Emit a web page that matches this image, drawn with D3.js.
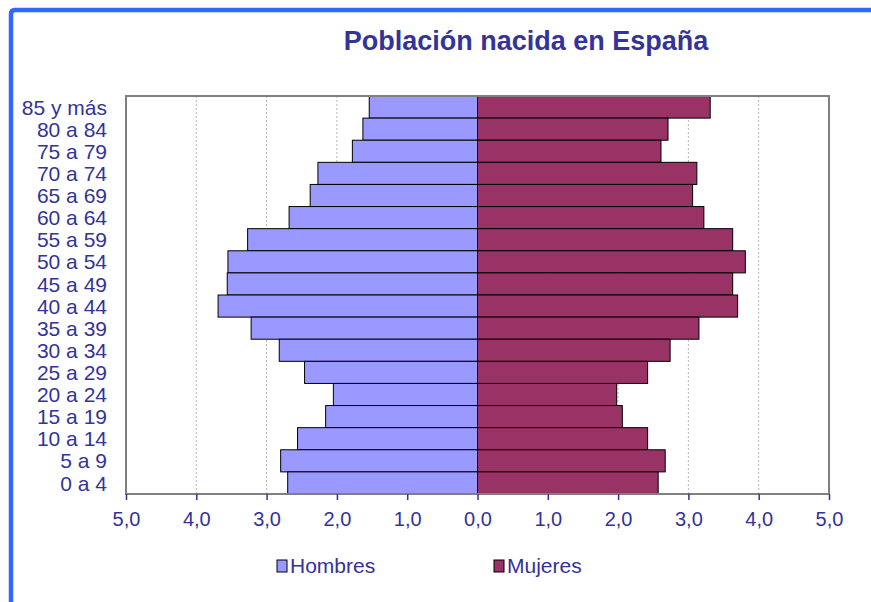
<!DOCTYPE html>
<html>
<head>
<meta charset="utf-8">
<script src="https://cdn.jsdelivr.net/npm/d3@7"></script>
<style>
  body { margin: 0; background: #fff; }
  svg { display: block; font-family: "Liberation Sans", Arial, sans-serif; }
</style>
</head>
<body>
<div id="chart"></div>
<script>
    'use strict';

    // age groups, top to bottom
    var ageGroups = ["85 y más", "80 a 84", "75 a 79", "70 a 74", "65 a 69", "60 a 64",
                     "55 a 59", "50 a 54", "45 a 49", "40 a 44", "35 a 39", "30 a 34",
                     "25 a 29", "20 a 24", "15 a 19", "10 a 14", "5 a 9", "0 a 4"];
    var hombres = [1.54, 1.63, 1.78, 2.27, 2.38, 2.68, 3.27, 3.55, 3.56, 3.69, 3.22, 2.82,
                   2.46, 2.05, 2.16, 2.56, 2.80, 2.70];
    var mujeres = [3.31, 2.71, 2.61, 3.12, 3.06, 3.22, 3.63, 3.81, 3.63, 3.70, 3.15, 2.74,
                   2.42, 1.98, 2.06, 2.42, 2.67, 2.57];
    var tickValues = [-5, -4, -3, -2, -1, 0, 1, 2, 3, 4, 5];
    var seriesNames = ["Hombres", "Mujeres"];

    var width = 871,
        height = 602;
    var plot = {left: 126, right: 829, top: 96, bottom: 494};
    var textColor = "#333399";
    var colors = {Hombres: "#9999FF", Mujeres: "#993366"};

    var svg = d3.select("#chart").append("svg")
        .attr("width", width)
        .attr("height", height);

    // blue frame on top and left
    svg.append("path")
        .attr("d", "M11," + (height + 5) + " L11,14 Q11,10 15," + 10 + " L" + (width + 5) + ",10")
        .attr("fill", "none")
        .attr("stroke", "#3366FF")
        .attr("stroke-width", 4.5);

    svg.append("text")
        .attr("x", 526)
        .attr("y", 50)
        .attr("text-anchor", "middle")
        .style("font-size", "27px")
        .style("font-weight", "bold")
        .style("fill", textColor)
        .text("Población nacida en España");

    var x = d3.scaleLinear()
        .domain([-5, 5])
        .range([plot.left, plot.right]);

    var y = d3.scaleBand()
        .domain(ageGroups)
        .range([plot.top, plot.bottom])
        .padding(0);

    // dashed grid
    svg.append("g")
        .selectAll("line")
        .data(tickValues.filter(function(d) { return d !== 0 && Math.abs(d) !== 5; }))
        .enter().append("line")
        .attr("x1", function(d) { return x(d); })
        .attr("x2", function(d) { return x(d); })
        .attr("y1", plot.top)
        .attr("y2", plot.bottom)
        .attr("stroke", "#b8b8b8")
        .attr("stroke-width", 1)
        .attr("stroke-dasharray", "2,2");

    var rows = ageGroups.map(function(g, i) { return [g, hombres[i], mujeres[i]]; });

    svg.append("g").selectAll("rect")
        .data(rows)
        .enter().append("rect")
        .attr("x", function(d) { return x(-d[1]); })
        .attr("y", function(d) { return y(d[0]); })
        .attr("width", function(d) { return x(0) - x(-d[1]); })
        .attr("height", y.bandwidth())
        .attr("fill", colors.Hombres)
        .attr("stroke", "#000")
        .attr("stroke-width", 1);

    svg.append("g").selectAll("rect")
        .data(rows)
        .enter().append("rect")
        .attr("x", x(0))
        .attr("y", function(d) { return y(d[0]); })
        .attr("width", function(d) { return x(d[2]) - x(0); })
        .attr("height", y.bandwidth())
        .attr("fill", colors.Mujeres)
        .attr("stroke", "#000")
        .attr("stroke-width", 1);

    // plot frame
    svg.append("rect")
        .attr("x", plot.left)
        .attr("y", plot.top)
        .attr("width", plot.right - plot.left)
        .attr("height", plot.bottom - plot.top)
        .attr("fill", "none")
        .attr("stroke", "#808080")
        .attr("stroke-width", 2);

    // x axis
    var xAxis = d3.axisBottom(x)
        .tickValues(tickValues)
        .tickSize(6)
        .tickPadding(12)
        .tickFormat(function(d) { return d3.format(".1f")(Math.abs(d)).replace(".", ","); });

    var gx = svg.append("g")
        .attr("transform", "translate(0," + plot.bottom + ")")
        .call(xAxis);
    gx.select(".domain").remove();
    gx.selectAll("line").attr("stroke", textColor).attr("stroke-width", 1.5);
    gx.selectAll("text")
        .attr("fill", textColor)
        .style("font-size", "20px")
        .style("font-family", "Liberation Sans, Arial, sans-serif");

    // category labels
    svg.append("g").selectAll("text")
        .data(ageGroups)
        .enter().append("text")
        .attr("x", 107)
        .attr("y", function(d) { return y(d) + y.bandwidth() / 2; })
        .attr("dy", "0.36em")
        .attr("text-anchor", "end")
        .style("font-size", "21px")
        .style("fill", textColor)
        .text(function(d) { return d; });

    // legend
    var legendX = [277, 494];
    var legend = svg.append("g").selectAll("g")
        .data(seriesNames)
        .enter().append("g")
        .attr("transform", function(d, i) { return "translate(" + legendX[i] + ",560)"; });
    legend.append("rect")
        .attr("width", 10)
        .attr("height", 12)
        .attr("fill", function(d) { return colors[d]; })
        .attr("stroke", "#000")
        .attr("stroke-width", 1);
    legend.append("text")
        .attr("x", 13)
        .attr("y", 13)
        .style("font-size", "21px")
        .style("fill", textColor)
        .text(function(d) { return d; });
</script>
</body>
</html>
